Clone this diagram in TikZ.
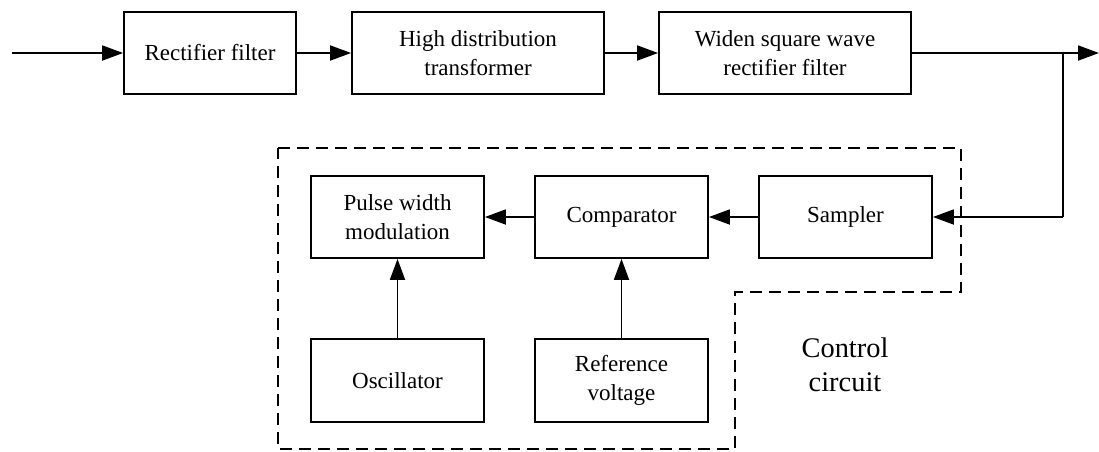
\documentclass[tikz,border=0pt]{standalone}
\usepackage{fontspec}
\setmainfont{Liberation Serif}
\usetikzlibrary{arrows.meta}
\begin{document}
\begin{tikzpicture}[x=1pt,y=-1pt,
  blk/.style={draw,line width=1.8pt,rectangle,minimum width=172pt,minimum height=82pt,inner sep=0pt,align=center,font=\fontsize{23}{29}\selectfont},
  wblk/.style={blk,minimum width=252pt},
  conn/.style={line width=1.8pt,-{Triangle[length=21pt,width=15pt]}},
  plain/.style={line width=1.8pt},
  frame/.style={line width=1.8pt,dash pattern=on 12pt off 7pt}]
\useasboundingbox (0,0) rectangle (1099,451);
% top row
\node[blk] (rect) at (210,53) {Rectifier filter};
\node[wblk] (high) at (478,53) {High distribution\\transformer};
\node[wblk] (widen) at (785,53) {Widen square wave\\rectifier filter};
\coordinate (in) at (12,53);
\coordinate (out) at (1099,53);
\coordinate (jn) at (1063,53);
\coordinate (cr) at (1063,217);
\draw[conn] (in) -- (rect);
\draw[conn] (rect) -- (high);
\draw[conn] (high) -- (widen);
\draw[conn] (widen) -- (out);
% control blocks
\node[blk,minimum width=173pt] (pwm) at (397.5,217) {Pulse width\\modulation};
\node[blk,minimum width=173pt] (comp) at (621.5,217) {Comparator};
\node[blk,minimum width=173pt] (samp) at (845.5,217) {Sampler};
\node[blk,minimum width=173pt,minimum height=83pt] (osc) at (397.5,380.5) {Oscillator};
\node[blk,minimum width=173pt,minimum height=83pt] (ref) at (621.5,380.5) {Reference\\voltage};
\draw[plain] (jn) -- (cr);
\draw[conn] (cr) -- (samp);
\draw[conn] (samp) -- (comp);
\draw[conn] (comp) -- (pwm);
\draw[conn] (osc) -- (pwm);
\draw[conn] (ref) -- (comp);
% dashed frame
\draw[frame] (278,148) -- (961,148) -- (961,292) -- (735,292) -- (735,449) -- (278,449) -- cycle;
\node[align=center,font=\fontsize{28.4}{34}\selectfont] (lbl) at (845,365) {Control\\circuit};
\end{tikzpicture}
\end{document}
